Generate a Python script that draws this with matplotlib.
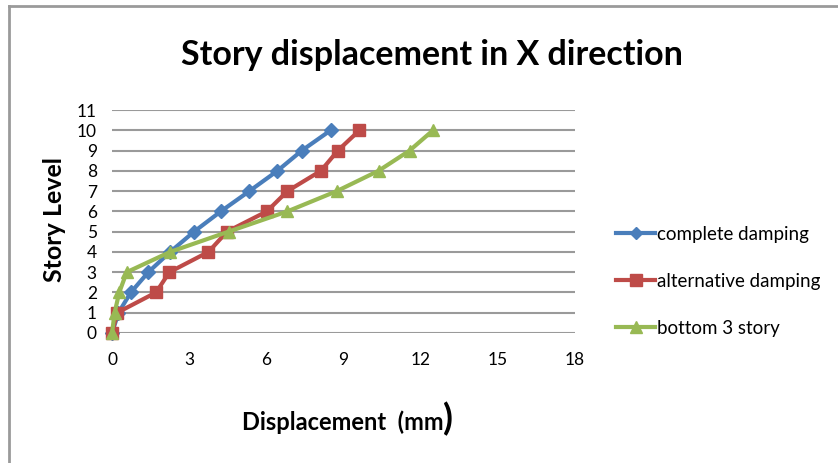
import matplotlib.pyplot as plt
from matplotlib.lines import Line2D

levels = [0, 1, 2, 3, 4, 5, 6, 7, 8, 9, 10]
complete_damping = [0.0, 0.25, 0.73, 1.41, 2.26, 3.19, 4.23, 5.34, 6.43, 7.38, 8.5]
alternative_damping = [0.0, 0.2, 1.71, 2.23, 3.75, 4.47, 6.02, 6.82, 8.12, 8.78, 9.62]
bottom_3_story = [0.0, 0.1, 0.28, 0.57, 2.26, 4.53, 6.82, 8.74, 10.36, 11.57, 12.48]

x_ticks = [0, 3, 6, 9, 12, 15, 18]
y_ticks = list(range(0, 12))

plt.rcParams['font.family'] = ['Lato', 'DejaVu Sans']

fig = plt.figure(figsize=(8.38, 4.63), dpi=100)
ax = fig.add_axes([0.1337, 0.2808, 0.5525, 0.4816])

series = [
    ("complete damping", complete_damping, "#4a7ebb", "D", 7),
    ("alternative damping", alternative_damping, "#be4b48", "s", 9),
    ("bottom 3 story", bottom_3_story, "#98b954", "^", 9),
]
for label, vals, color, marker, ms in series:
    ax.plot(vals, levels, color=color, lw=3, marker=marker, ms=ms,
            label=label, clip_on=False, zorder=3)

ax.set_xlim(0, 18)
ax.set_ylim(0, 11)
ax.set_xticks(x_ticks)
ax.set_yticks(y_ticks)
ax.yaxis.grid(True, color="#9a9a9a", lw=1.5)
ax.set_axisbelow(True)
for s in ax.spines.values():
    s.set_visible(False)
ax.tick_params(length=0, labelsize=12.5)
ax.tick_params(axis="x", pad=14)
ax.tick_params(axis="y", pad=11)

fig.text(0.515, 0.881, "Story displacement in X direction", ha="center", va="center",
         fontsize=24.5, fontweight="bold")
fig.text(0.065, 0.525, "Story Level", rotation=90, ha="center", va="center",
         fontsize=18, fontweight="bold")
fig.text(0.529, 0.089, "Displacement  (mm", ha="right", va="center",
         fontsize=17, fontweight="bold")
fig.text(0.529, 0.095, ")", ha="left", va="center",
         fontsize=26, fontweight="bold")

handles = [Line2D([], [], color=c, lw=3, marker=m, ms=ms - 1) for _, _, c, m, ms in series]
fig.legend(handles, [s[0] for s in series], loc="center left",
           bbox_to_anchor=(0.715, 0.393), frameon=False, fontsize=13.5,
           handlelength=2.1, handletextpad=0.1, labelspacing=1.6)

# partial frame (left and top edges) like the cropped screenshot
fig.add_artist(Line2D([0.011, 0.011], [0.0, 0.987], color="#9a9a9a", lw=2))
fig.add_artist(Line2D([0.011, 1.0], [0.987, 0.987], color="#9a9a9a", lw=2))

fig.savefig("out.png", dpi=100)
